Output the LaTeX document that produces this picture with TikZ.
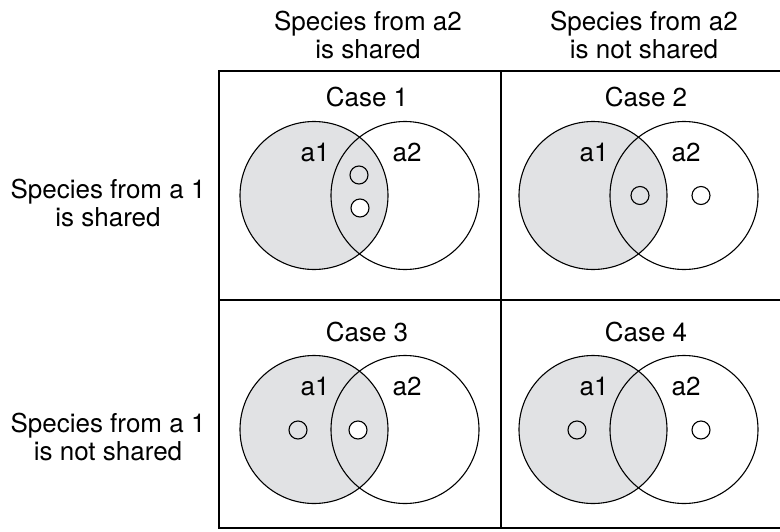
\documentclass[tikz,border=0pt]{standalone}
\usepackage{fontspec}
\setmainfont{TeX Gyre Heros}
\definecolor{setshade}{HTML}{E1E2E4}
\tikzset{
  lbl/.style={font=\fontsize{26}{28}\selectfont, inner sep=0pt, align=center},
  caselbl/.style={font=\fontsize{26}{28}\selectfont, inner sep=0pt, anchor=base},
  setlbl/.style={font=\fontsize{26}{28}\selectfont, inner sep=0pt, anchor=base},
  setA/.style={circle, draw, fill=setshade, line width=1.1pt, minimum size=148pt, inner sep=0pt},
  setB/.style={circle, draw, line width=1.1pt, minimum size=148pt, inner sep=0pt},
  sp/.style={circle, draw, line width=1.1pt, minimum size=18pt, inner sep=0pt},
  spw/.style={sp, fill=white},
  gridline/.style={line width=1.6pt}
}
\begin{document}
\begin{tikzpicture}[x=1pt, y=-1pt]
  \useasboundingbox (0,0) rectangle (780,531);

  % table frame
  \coordinate (tl) at (219,71);
  \coordinate (bl) at (219,528);
  \coordinate (tr) at (781,71);
  \coordinate (br) at (781,528);
  \coordinate (mt) at (501,71);
  \coordinate (mb) at (501,528);
  \coordinate (ml) at (219,300);
  \coordinate (mr) at (781,300);
  \draw[gridline] (tr) -- (tl) -- (bl) -- (br);
  \draw[gridline] (mt) -- (mb);
  \draw[gridline] (ml) -- (mr);

  % column and row headers
  \node[lbl] (colA) at (368,34.5) {Species from a2\\is shared};
  \node[lbl] (colB) at (644,34.5) {Species from a2\\is not shared};
  \node[lbl] (rowA) at (108,202.5) {Species from a 1\\is shared};
  \node[lbl] (rowB) at (108,436.5) {Species from a 1\\is not shared};

  % Case 1
  \node[caselbl] (t1) at (367,106) {Case 1};
  \node[setA] (a1c1) at (314,195.5) {};
  \node[setB] (a2c1) at (405,195.5) {};
  \node[setlbl] (l1c1) at (315,161) {a1};
  \node[setlbl] (l2c1) at (407,161) {a2};
  \node[sp]  (s1c1) at (359,175) {};
  \node[spw] (s2c1) at (360,208) {};

  % Case 2
  \node[caselbl] (t2) at (646,106) {Case 2};
  \node[setA] (a1c2) at (593,195.5) {};
  \node[setB] (a2c2) at (684,195.5) {};
  \node[setlbl] (l1c2) at (594,161) {a1};
  \node[setlbl] (l2c2) at (686,161) {a2};
  \node[sp]  (s1c2) at (640,195.5) {};
  \node[spw] (s2c2) at (701,195.5) {};

  % Case 3
  \node[caselbl] (t3) at (367,341) {Case 3};
  \node[setA] (a1c3) at (314,429.5) {};
  \node[setB] (a2c3) at (405,429.5) {};
  \node[setlbl] (l1c3) at (315,395) {a1};
  \node[setlbl] (l2c3) at (407,395) {a2};
  \node[sp]  (s1c3) at (298,430) {};
  \node[spw] (s2c3) at (358,430) {};

  % Case 4
  \node[caselbl] (t4) at (646,341) {Case 4};
  \node[setA] (a1c4) at (593,429.5) {};
  \node[setB] (a2c4) at (684,429.5) {};
  \node[setlbl] (l1c4) at (594,395) {a1};
  \node[setlbl] (l2c4) at (686,395) {a2};
  \node[sp]  (s1c4) at (577,430) {};
  \node[spw] (s2c4) at (701,430) {};
\end{tikzpicture}
\end{document}
